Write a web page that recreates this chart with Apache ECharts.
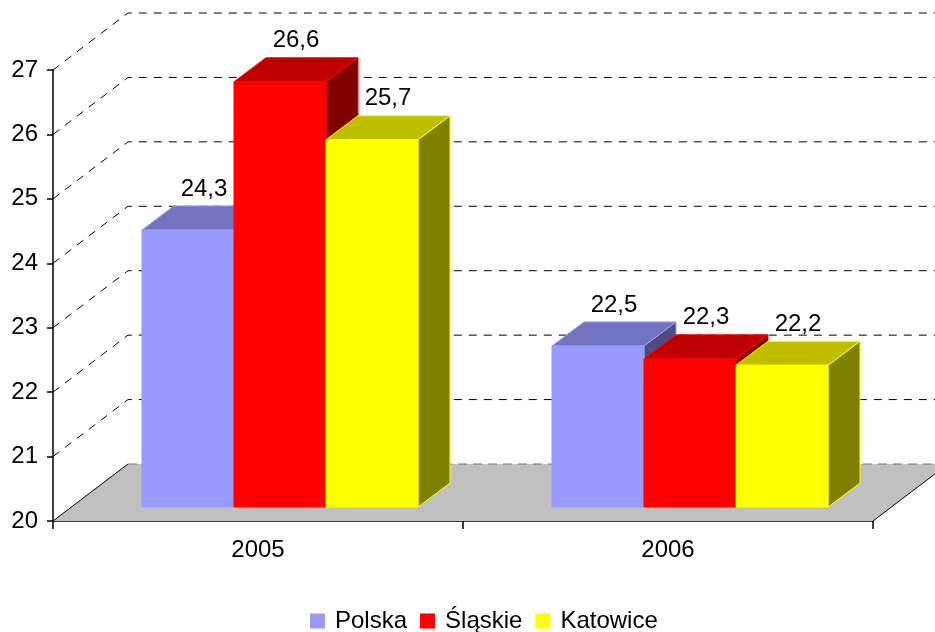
<!DOCTYPE html>
<html>
<head>
<meta charset="utf-8">
<script src="https://cdn.jsdelivr.net/npm/echarts@6/dist/echarts.min.js"></script>
<style>html,body{margin:0;padding:0;background:#fff;}#c{width:935px;height:632px;}</style>
</head>
<body>
<div id="c"></div>
<script>
// ---- data ----
const categories = ['2005', '2006'];
const seriesNames = ['Polska', 'Śląskie', 'Katowice'];
const polska = [24.3, 22.5];
const slaskie = [26.6, 22.3];
const katowice = [25.7, 22.2];
const yMin = 20;
const yMax = 27;
const gridValues = [21, 22, 23, 24, 25, 26, 27];

// ---- styles ----
const FONT = '"Liberation Sans", Arial, sans-serif';
const FS = 24;
const WALL_DX = 75, WALL_DY = -57;
const BAR_DX0 = 22, BAR_DY0 = -14;
const BAR_DX = 32, BAR_DY = -24;
const BAR_FRAC = 0.2244;
const palettes = [
  { front: '#9999FF', top: '#7373BF', side: '#4D4D80' },
  { front: '#FF0000', top: '#BF0000', side: '#800000' },
  { front: '#FFFF00', top: '#BFBF00', side: '#808000' }
];
const valuesBySeries = [polska, slaskie, katowice];

function fmt(v) { return v.toFixed(1).replace('.', ','); }

function barRender(idx) {
  const pal = palettes[idx];
  return function (params, api) {
    const c = api.value(0), v = api.value(1);
    const base = api.coord([c, yMin]);
    const topP = api.coord([c, v]);
    const band = api.size([1, 0])[0];
    const w = band * BAR_FRAC;
    const x0 = base[0] - 1.5 * w + idx * w + BAR_DX0;
    const x1 = x0 + w;
    const yb = base[1] + BAR_DY0;
    const yt = topP[1] + BAR_DY0;
    return {
      type: 'group',
      children: [
        { type: 'polygon', shape: { points: [[x1, yt], [x1 + BAR_DX, yt + BAR_DY], [x1 + BAR_DX, yb + BAR_DY], [x1, yb]] },
          style: { fill: pal.side, stroke: pal.front, lineWidth: 1 } },
        { type: 'polygon', shape: { points: [[x0, yt], [x0 + BAR_DX, yt + BAR_DY], [x1 + BAR_DX, yt + BAR_DY], [x1, yt]] },
          style: { fill: pal.top, stroke: pal.front, lineWidth: 1 } },
        { type: 'rect', shape: { x: x0, y: yt, width: w, height: yb - yt },
          style: { fill: pal.front, stroke: pal.front, lineWidth: 1 } },
        { type: 'text', z2: 10, style: { text: fmt(v), x: x0 + w / 2 + BAR_DX / 2, y: yt + BAR_DY - 5,
          textAlign: 'center', textVerticalAlign: 'bottom', fill: '#000', font: FS + 'px ' + FONT } }
      ]
    };
  };
}

const barSeries = seriesNames.map(function (name, i) {
  return {
    name: name,
    type: 'custom',
    z: 5 + i,
    silent: true,
    clip: false,
    itemStyle: { color: palettes[i].front },
    encode: { x: 0, y: 1 },
    data: categories.map(function (c, k) { return [k, valuesBySeries[i][k]]; }),
    renderItem: barRender(i)
  };
});

const floorSeries = {
  name: 'floor', type: 'custom', z: 1, silent: true, clip: false,
  data: [[0, yMin]],
  renderItem: function (params, api) {
    const cs = params.coordSys;
    const y = api.coord([0, yMin])[1];
    const xl = cs.x, xr = cs.x + cs.width;
    return {
      type: 'group',
      children: [
        { type: 'polygon', shape: { points: [[xl, y], [xl + WALL_DX, y + WALL_DY], [xr + WALL_DX, y + WALL_DY], [xr, y]] },
          style: { fill: '#C0C0C0', stroke: null } },
        { type: 'line', shape: { x1: xl, y1: y, x2: xl + WALL_DX, y2: y + WALL_DY }, style: { stroke: '#000', lineWidth: 1 } },
        { type: 'line', shape: { x1: xr, y1: y, x2: xr + WALL_DX, y2: y + WALL_DY }, style: { stroke: '#000', lineWidth: 1 } },
        { type: 'line', shape: { x1: xl + WALL_DX, y1: y + WALL_DY, x2: api.getWidth(), y2: y + WALL_DY },
          style: { stroke: '#777', lineWidth: 1, lineDash: [9, 6] } }
      ]
    };
  }
};

const gridSeries = {
  name: 'wall', type: 'custom', z: 2, silent: true, clip: false,
  data: gridValues.map(function (g) { return [0, g]; }),
  renderItem: function (params, api) {
    const cs = params.coordSys;
    const y = api.coord([0, api.value(1)])[1];
    const x = cs.x;
    return {
      type: 'polyline',
      shape: { points: [[x, y], [x + WALL_DX, y + WALL_DY], [api.getWidth(), y + WALL_DY]] },
      style: { stroke: '#000', lineWidth: 1, lineDash: [8, 7], fill: null }
    };
  }
};

const chart = echarts.init(document.getElementById('c'), null, { renderer: 'canvas' });
chart.setOption({
  animation: false,
  backgroundColor: '#fff',
  grid: { left: 53, right: 62, top: 70, bottom: 111, containLabel: false },
  legend: {
    data: seriesNames,
    top: 604,
    left: 305,
    icon: 'rect',
    itemWidth: 15,
    itemHeight: 15,
    itemGap: 13,
    textStyle: { fontSize: FS, color: '#000', fontFamily: FONT, padding: [0, 0, 0, 5] },
    selectedMode: false
  },
  xAxis: {
    type: 'category',
    data: categories,
    boundaryGap: true,
    axisLine: { lineStyle: { color: '#000', width: 1.5 } },
    axisTick: { show: true, length: 8, lineStyle: { color: '#000', width: 1.5 } },
    axisLabel: { fontSize: FS, color: '#000', fontFamily: FONT, margin: 17 },
    splitLine: { show: false }
  },
  yAxis: {
    type: 'value',
    min: yMin,
    max: yMax,
    interval: 1,
    axisLine: { show: true, lineStyle: { color: '#000', width: 1.5 } },
    axisTick: { show: true, length: 6, lineStyle: { color: '#000', width: 1.5 } },
    axisLabel: { fontSize: FS, color: '#000', fontFamily: FONT, margin: 15 },
    splitLine: { show: false }
  },
  series: [floorSeries, gridSeries].concat(barSeries)
});
</script>
</body>
</html>
